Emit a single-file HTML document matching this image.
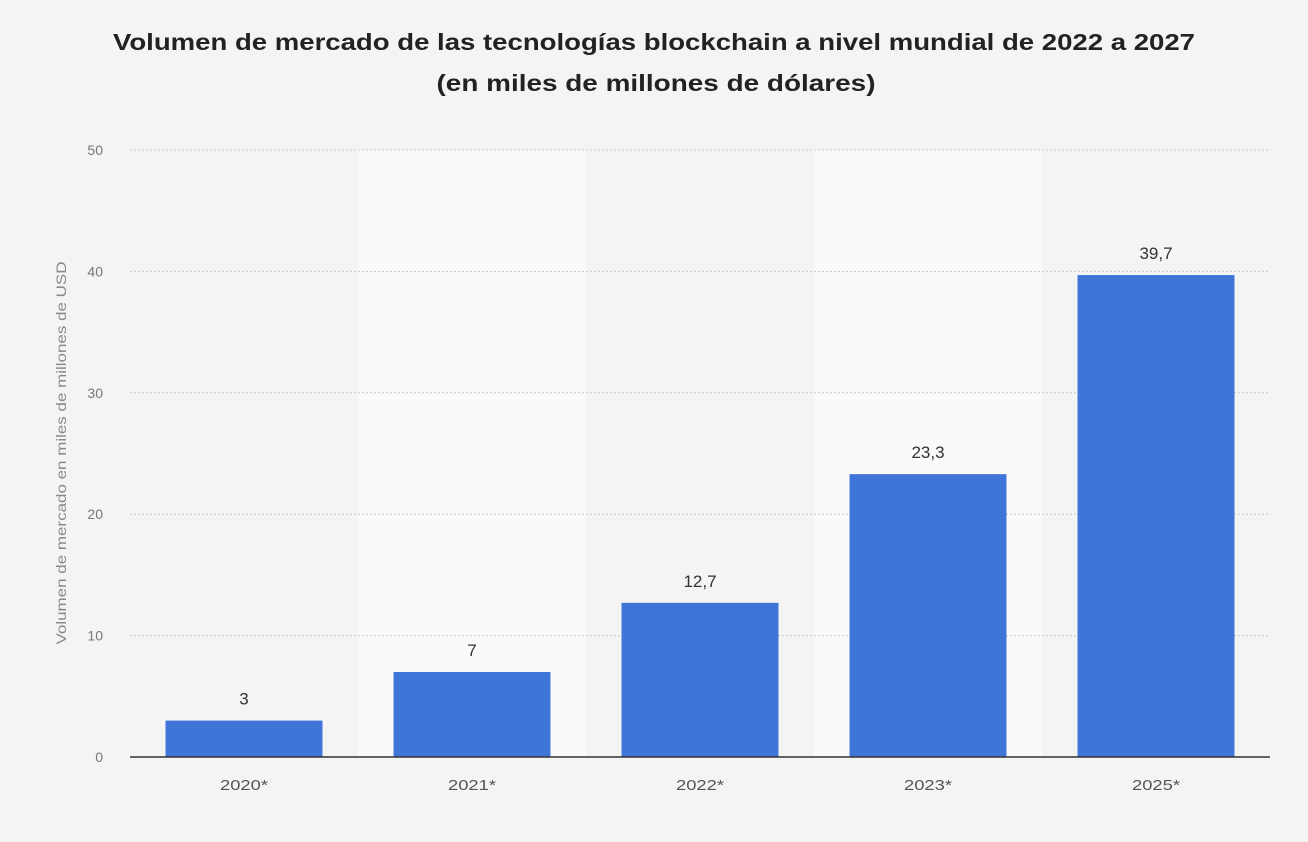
<!DOCTYPE html>
<html><head><meta charset="utf-8"><style>
body{margin:0;width:1308px;height:842px;background:#f4f4f4;font-family:"Liberation Sans",sans-serif;overflow:hidden}
svg{position:absolute;left:0;top:0}
</style></head><body>
<svg width="1308" height="842" id="c">
<text x="654" y="50" text-anchor="middle" font-size="23" font-weight="bold" fill="#222" textLength="1082" lengthAdjust="spacingAndGlyphs">Volumen de mercado de las tecnologías blockchain a nivel mundial de 2022 a 2027</text>
<text x="656" y="91" text-anchor="middle" font-size="23" font-weight="bold" fill="#222" textLength="439" lengthAdjust="spacingAndGlyphs">(en miles de millones de dólares)</text>
<text transform="translate(66,453) rotate(-90)" text-anchor="middle" font-size="14" fill="#888" textLength="383" lengthAdjust="spacingAndGlyphs">Volumen de mercado en miles de millones de USD</text>
</svg>
<script>
const categories=["2020*","2021*","2022*","2023*","2025*"];
const values=[3,7,12.7,23.3,39.7];
const labels=["3","7","12,7","23,3","39,7"];
const ticks=[0,10,20,30,40,50];
const svg=document.getElementById('c');const NS='http://www.w3.org/2000/svg';
const x0=130,x1=1270,y0=757,y1=150,ymax=50;
const y=v=>y0-(v/ymax)*(y0-y1);
const bw=(x1-x0)/categories.length;
const xc=i=>x0+bw*(i+0.5);
function mk(t,a){const e=document.createElementNS(NS,t);for(const k in a)e.setAttribute(k,a[k]);svg.appendChild(e);return e;}
categories.forEach((c,i)=>{if(i%2==1){const r=mk('rect',{x:x0+bw*i,y:y1,width:bw,height:y0-y1,fill:'#fafafa'});

}});
ticks.forEach(t=>{if(t>0){const l=mk('line',{x1:x0,x2:x1,y1:y(t),y2:y(t),stroke:'#c8c8c8','stroke-dasharray':'2,2'});

}
const tx=mk('text',{x:103,y:y(t)+5,'text-anchor':'end','font-size':14,fill:'#777'});tx.textContent=t;

});
categories.forEach((c,i)=>{const w=157;
const r=mk('rect',{x:xc(i)-w/2,y:y(values[i]),width:w,height:y0-y(values[i]),fill:'#3f74d9'});


const v=mk('text',{x:xc(i),y:y(values[i])-16,'text-anchor':'middle','font-size':17,fill:'#333'});v.textContent=labels[i];


const xt=mk('text',{x:xc(i),y:y0+33,'text-anchor':'middle','font-size':15,fill:'#555',textLength:48,lengthAdjust:'spacingAndGlyphs'});xt.textContent=c;

});
const ax=mk('line',{x1:x0,x2:x1,y1:y0,y2:y0,stroke:'#333','stroke-width':1.5});


</script>
</body></html>
